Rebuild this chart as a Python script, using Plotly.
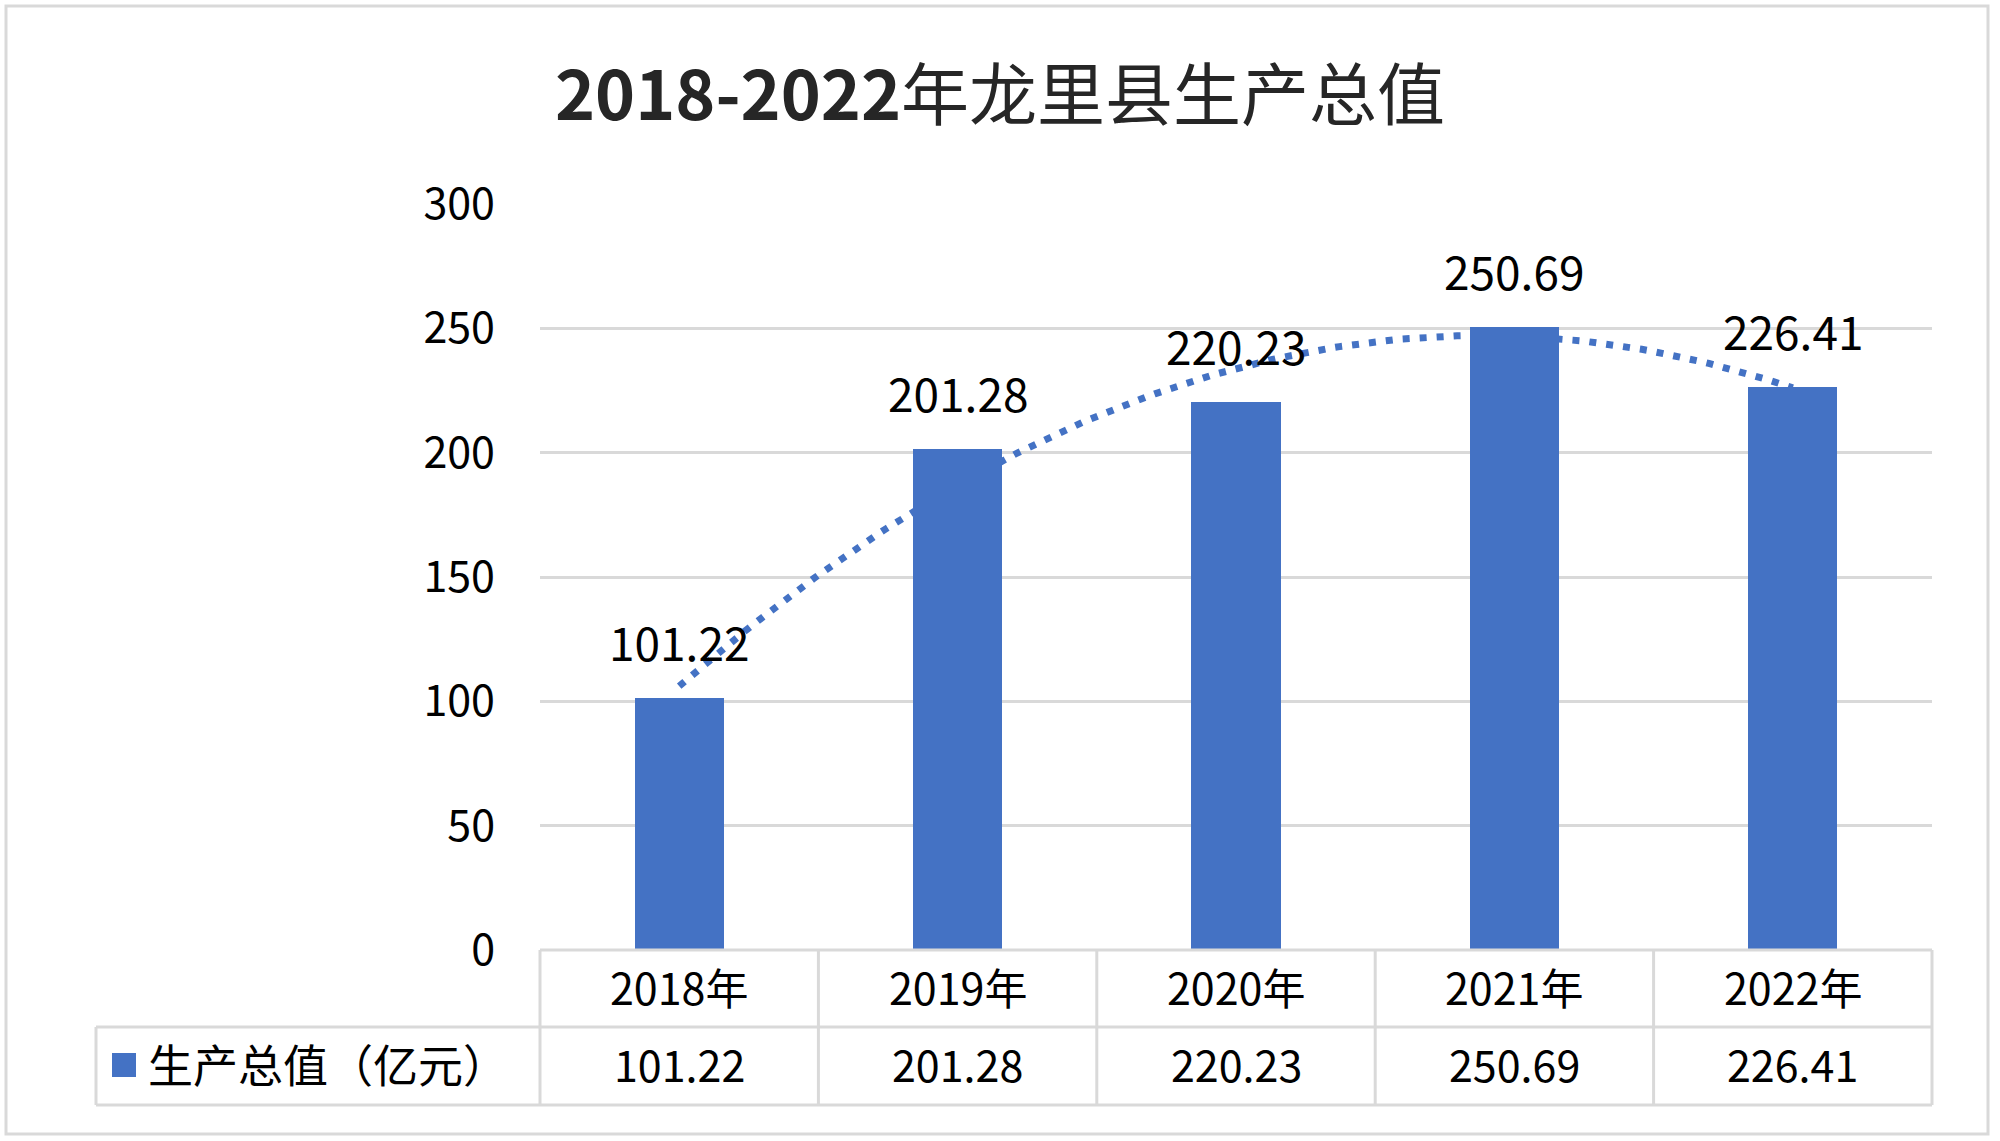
import numpy as np
import plotly.graph_objects as go

# ---------------- data ----------------
title_text = "<b>2018-2022</b>年龙里县生产总值"
categories = ["2018年", "2019年", "2020年", "2021年", "2022年"]
series_name = "生产总值（亿元）"
values = [101.22, 201.28, 220.23, 250.69, 226.41]
y_ticks = [0, 50, 100, 150, 200, 250, 300]

# ---------------- style ----------------
BLUE = "#4472C4"
GRID = "#D9D9D9"
FONT = "Noto Sans CJK SC, Noto Sans, sans-serif"
W, H = 2000, 1141
L, R, T, B = 540, 1932, 204, 950  # plot area in pixels


def px(x):
    return (x - L) / (R - L)


def py(y):
    return (B - y) / (B - T)


xs = np.arange(len(categories))
xr = [-0.5, len(categories) - 0.5]

# polynomial (order 2) trendline fitted to the series, like the spreadsheet's trendline
coef = np.polyfit(xs, values, 2)
tx = np.linspace(xs[0], xs[-1], 200)
ty = np.polyval(coef, tx)

fig = go.Figure()
# trendline on the base axes (drawn beneath the bars)
fig.add_trace(go.Scatter(
    x=tx, y=ty, mode="lines", xaxis="x", yaxis="y",
    line=dict(color=BLUE, width=7, dash="7px,10px"),
    hoverinfo="skip", showlegend=False,
))
# bars on an overlaying axis so they sit above the trendline
fig.add_trace(go.Bar(
    x=xs, y=values, name=series_name, xaxis="x", yaxis="y2",
    marker=dict(color=BLUE, line=dict(width=0)), width=0.32,
    showlegend=False,
))

annotations = []
# data labels above bars
for i, v in enumerate(values):
    annotations.append(dict(
        x=xs[i], y=v, xref="x", yref="y2", text=f"{v:.2f}", showarrow=False,
        yanchor="bottom", xanchor="center", yshift=22,
        font=dict(family=FONT, size=46, color="#000000"),
    ))
# data table: header row (categories) and value row
for i, c in enumerate(categories):
    annotations.append(dict(
        x=xs[i], y=py(986), xref="x", yref="paper", text=c, showarrow=False,
        yanchor="middle", xanchor="center",
        font=dict(family=FONT, size=43, color="#000000"),
    ))
    annotations.append(dict(
        x=xs[i], y=py(1063), xref="x", yref="paper", text=f"{values[i]:.2f}",
        showarrow=False, yanchor="middle", xanchor="center",
        font=dict(family=FONT, size=43, color="#000000"),
    ))
annotations.append(dict(
    x=px(146), y=py(1063), xref="paper", yref="paper", text=series_name,
    showarrow=False, yanchor="middle", xanchor="left",
    font=dict(family=FONT, size=45, color="#000000"),
))

shapes = []
line_style = dict(color=GRID, width=3)
# horizontal table lines
shapes.append(dict(type="line", xref="paper", yref="paper", x0=0, x1=1, y0=py(950), y1=py(950), line=line_style))
shapes.append(dict(type="line", xref="paper", yref="paper", x0=px(96), x1=1, y0=py(1027), y1=py(1027), line=line_style))
shapes.append(dict(type="line", xref="paper", yref="paper", x0=px(96), x1=1, y0=py(1105), y1=py(1105), line=line_style))
# vertical table lines at category boundaries
for k in range(len(categories) + 1):
    bx = (k - 0.5 - xr[0]) / (xr[1] - xr[0])
    shapes.append(dict(type="line", xref="paper", yref="paper", x0=bx, x1=bx, y0=py(950), y1=py(1105), line=line_style))
shapes.append(dict(type="line", xref="paper", yref="paper", x0=px(96), x1=px(96), y0=py(1027), y1=py(1105), line=line_style))
# legend key
shapes.append(dict(type="rect", xref="paper", yref="paper", x0=px(112), x1=px(136), y0=py(1077), y1=py(1053),
                   fillcolor=BLUE, line=dict(width=0)))
# outer chart border
shapes.append(dict(type="rect", xref="paper", yref="paper", x0=px(6), x1=px(1988), y0=py(6), y1=py(1134),
                   line=dict(color=GRID, width=3), fillcolor="rgba(0,0,0,0)"))

fig.update_layout(
    width=W, height=H,
    margin=dict(l=L, r=W - R, t=T, b=H - B, pad=0),
    paper_bgcolor="white", plot_bgcolor="white",
    title=dict(text=title_text, x=0.5, xref="container", xanchor="center",
               y=1 - 96 / H, yref="container", yanchor="middle",
               font=dict(family=FONT, size=68, color="#262626")),
    xaxis=dict(range=xr, showticklabels=False, showgrid=False, zeroline=False,
               showline=False, ticks="", fixedrange=True),
    yaxis=dict(range=[0, 300], tickvals=y_ticks, showgrid=True, gridcolor=GRID, gridwidth=3,
               zeroline=False, showline=False, ticks="", ticklabelstandoff=44,
               tickfont=dict(family=FONT, size=43, color="#000000")),
    yaxis2=dict(range=[0, 300], overlaying="y", side="left", showgrid=False, zeroline=False,
                showticklabels=False, showline=False, ticks=""),
    annotations=annotations,
    shapes=shapes,
    showlegend=False,
    bargap=0,
)

fig.write_html("out.html", config={"displayModeBar": False},
               post_script="document.body.style.margin='0';document.body.style.padding='0';")
